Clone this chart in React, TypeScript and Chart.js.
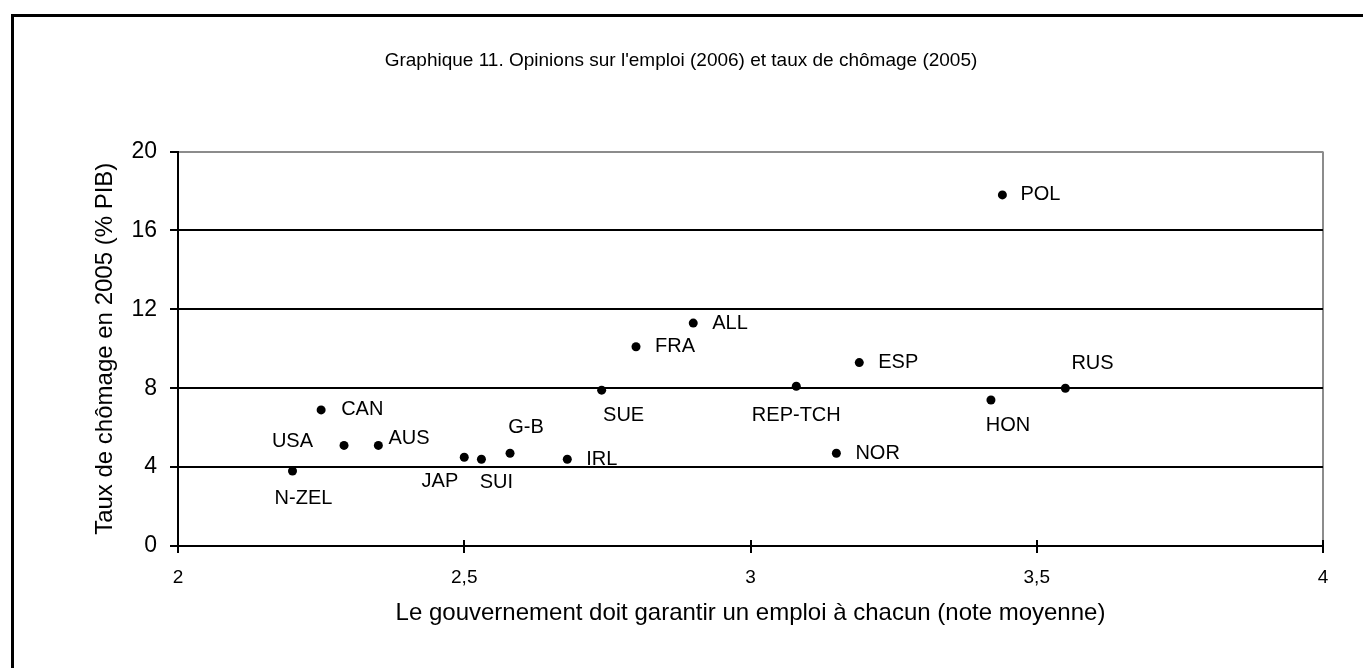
import React, { useEffect, useRef } from "react";
import { Chart, registerables } from "chart.js";

Chart.register(...registerables);

// ---- Data ----
const countries = [
  "N-ZEL", "CAN", "USA", "AUS", "JAP", "SUI", "G-B", "IRL", "SUE",
  "FRA", "ALL", "REP-TCH", "NOR", "ESP", "POL", "HON", "RUS",
];
const jobGuarantee = [
  2.2, 2.25, 2.29, 2.35, 2.5, 2.53, 2.58, 2.68, 2.74,
  2.8, 2.9, 3.08, 3.15, 3.19, 3.44, 3.42, 3.55,
];
const unemployment = [
  3.8, 6.9, 5.1, 5.1, 4.5, 4.4, 4.7, 4.4, 7.9,
  10.1, 11.3, 8.1, 4.7, 9.3, 17.8, 7.4, 8.0,
];
const yTicks = [0, 4, 8, 12, 16, 20];
const xTicks = [2, 2.5, 3, 3.5, 4];

const titleText = "Graphique 11. Opinions sur l'emploi (2006) et taux de chômage (2005)";
const xTitle = "Le gouvernement doit garantir un emploi à chacun (note moyenne)";
const yTitle = "Taux de chômage en 2005 (% PIB)";

// ---- Label placement (style only): [dx, dy, align] ----
const labelPlacement: [number, number, CanvasTextAlign][] = [
  [11, 27, "center"],   // N-ZEL
  [20, 0, "left"],      // CAN
  [-31, -4, "right"],   // USA
  [10, -7, "left"],     // AUS
  [-6, 24, "right"],    // JAP
  [15, 23, "center"],   // SUI
  [16, -26, "center"],  // G-B
  [19, 0, "left"],      // IRL
  [22, 25, "center"],   // SUE
  [19, 0, "left"],      // FRA
  [19, 0, "left"],      // ALL
  [0, 29, "center"],    // REP-TCH
  [19, 0, "left"],      // NOR
  [19, 0, "left"],      // ESP
  [18, 0, "left"],      // POL
  [17, 25, "center"],   // HON
  [6, -25, "left"],     // RUS
];

const FONT = "'Liberation Sans', Arial, sans-serif";

const labelsPlugin = {
  id: "pointLabels",
  afterDatasetsDraw(chart: any) {
    const ctx = chart.ctx;
    const meta = chart.getDatasetMeta(0);
    ctx.save();
    ctx.font = `20px ${FONT}`;
    ctx.fillStyle = "#000";
    ctx.textBaseline = "middle";
    meta.data.forEach((pt: any, i: number) => {
      const [dx, dy, align] = labelPlacement[i];
      ctx.textAlign = align;
      ctx.fillText(countries[i], pt.x + dx, pt.y + dy);
    });
    ctx.restore();
  },
};

const crossTicksPlugin = {
  id: "crossTicks",
  afterDraw(chart: any) {
    const ctx = chart.ctx;
    const xs = chart.scales.x;
    const bottom = chart.chartArea.bottom;
    ctx.save();
    ctx.strokeStyle = "#000";
    ctx.lineWidth = 2;
    xTicks.forEach((v) => {
      const px = Math.round(xs.getPixelForValue(v));
      ctx.beginPath();
      ctx.moveTo(px, bottom - 6);
      ctx.lineTo(px, bottom);
      ctx.stroke();
    });
    ctx.restore();
  },
};

export default function App() {
  const ref = useRef<HTMLCanvasElement | null>(null);

  useEffect(() => {
    if (!ref.current) return;
    const chart = new Chart(ref.current, {
      type: "scatter",
      data: {
        datasets: [
          {
            data: jobGuarantee.map((x, i) => ({ x, y: unemployment[i] })),
            backgroundColor: "#000",
            borderColor: "#000",
            borderWidth: 0,
            pointRadius: 4.5,
            pointHoverRadius: 4.5,
          },
        ],
      },
      options: {
        responsive: false,
        animation: false,
        events: [],
        layout: { padding: { left: 39, right: 40, top: 0, bottom: 0 } },
        plugins: {
          legend: { display: false },
          tooltip: { enabled: false },
          title: {
            display: true,
            text: titleText,
            color: "#000",
            font: { family: FONT, size: 19, weight: "normal" as any, lineHeight: 1.2 },
            padding: { top: 49.6, bottom: 79.1 },
          },
        },
        scales: {
          x: {
            type: "linear",
            min: 2,
            max: 4,
            afterFit(scale: any) {
              scale.height = 122;
            },
            afterBuildTicks(scale: any) {
              scale.ticks = xTicks.map((v) => ({ value: v }));
            },
            ticks: {
              color: "#000",
              padding: 13.6,
              font: { family: FONT, size: 19 },
              callback: (v: any) => String(v).replace(".", ","),
            },
            grid: {
              drawOnChartArea: true,
              color: (c: any) => (c.tick && c.tick.value === 4 ? "#8c8c8c" : "rgba(0,0,0,0)"),
              lineWidth: 2,
              tickColor: "#000",
              tickWidth: 2,
              tickLength: 7,
            },
            border: { display: true, color: "#000", width: 2 },
            title: {
              display: true,
              text: xTitle,
              color: "#000",
              font: { family: FONT, size: 24, lineHeight: 1.2 },
              padding: { top: 0, bottom: 40.6 },
            },
          },
          y: {
            type: "linear",
            min: 0,
            max: 20,
            afterFit(scale: any) {
              scale.width = 139;
            },
            afterBuildTicks(scale: any) {
              scale.ticks = yTicks.map((v) => ({ value: v }));
            },
            ticks: {
              color: "#000",
              padding: 13,
              font: { family: FONT, size: 23 },
            },
            grid: {
              color: (c: any) => (c.tick && c.tick.value === 20 ? "#8c8c8c" : "#000"),
              lineWidth: 2,
              tickColor: "#000",
              tickWidth: 2,
              tickLength: 8,
            },
            border: { display: true, color: "#000", width: 2 },
            title: {
              display: true,
              text: yTitle,
              color: "#000",
              font: { family: FONT, size: 24, lineHeight: 1.2 },
              padding: { top: 51.6, bottom: 0 },
            },
          },
        },
      },
      plugins: [labelsPlugin, crossTicksPlugin],
    });
    return () => chart.destroy();
  }, []);

  return (
    <div style={{ position: "fixed", inset: 0, overflow: "hidden", background: "#fff" }}>
      <div
        style={{
          position: "absolute",
          left: 11,
          top: 14,
          width: 1500,
          height: 800,
          border: "3px solid #000",
          boxSizing: "border-box",
        }}
      />
      <canvas
        ref={ref}
        width={1363}
        height={668}
        style={{ position: "absolute", left: 0, top: 0, width: 1363, height: 668 }}
      />
    </div>
  );
}
